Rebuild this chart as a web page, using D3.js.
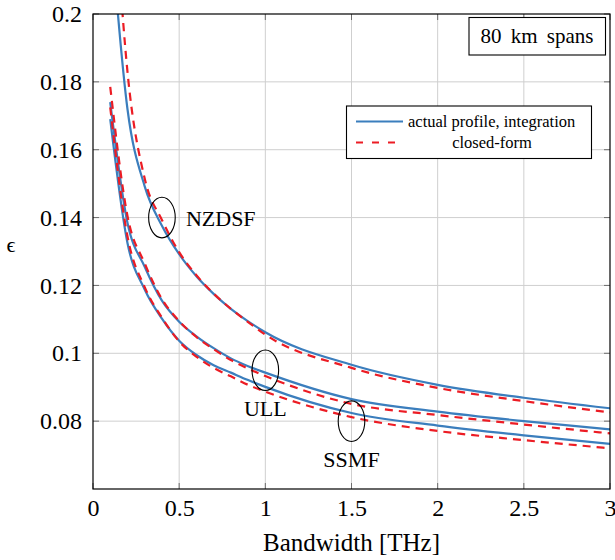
<!DOCTYPE html>
<html>
<head>
<meta charset="utf-8">
<script src="https://cdn.jsdelivr.net/npm/d3@7"></script>
<style>
  html, body { margin: 0; padding: 0; background: #fff; }
  svg { display: block; }
  text { font-family: "Liberation Serif", "DejaVu Serif", serif; fill: #000; }
</style>
</head>
<body>
<svg id="chart" width="615" height="560"></svg>
<script>
// ---- data ----
const bandwidth = [0.1, 0.2, 0.3, 0.4, 0.5, 0.6, 0.7, 0.8, 0.9, 1.0, 1.5, 2.0, 2.5, 3.0];

const nzdsfIntegration = [0.227, 0.172, 0.1492, 0.1376, 0.1292, 0.1227, 0.1175, 0.1131, 0.1094, 0.1062, 0.0966, 0.0907, 0.0869, 0.0838];
const nzdsfClosedForm  = [0.255, 0.183, 0.1515, 0.1393, 0.1298, 0.1230, 0.1176, 0.1131, 0.1092, 0.1055, 0.0957, 0.0898, 0.0859, 0.0826];

const ullIntegration   = [0.174, 0.1385, 0.1255, 0.1155, 0.1093, 0.105, 0.1015, 0.0985, 0.0962, 0.0943, 0.0865, 0.0828, 0.0800, 0.0776];
const ullClosedForm    = [0.1785, 0.1405, 0.1265, 0.116, 0.1095, 0.1048, 0.1012, 0.098, 0.0955, 0.0933, 0.0851, 0.0818, 0.0790, 0.0764];

const ssmfIntegration  = [0.169, 0.1325, 0.1188, 0.1102, 0.1037, 0.0995, 0.0965, 0.0943, 0.0921, 0.0901, 0.0824, 0.0787, 0.0758, 0.0733];
const ssmfClosedForm   = [0.1725, 0.1345, 0.1195, 0.1105, 0.1035, 0.0990, 0.0957, 0.0932, 0.0907, 0.0887, 0.0812, 0.0771, 0.0744, 0.0720];

const xTicks = [0, 0.5, 1, 1.5, 2, 2.5, 3];
const xTickLabels = ["0", "0.5", "1", "1.5", "2", "2.5", "3"];
const yTicks = [0.08, 0.1, 0.12, 0.14, 0.16, 0.18, 0.2];
const yTickLabels = ["0.08", "0.1", "0.12", "0.14", "0.16", "0.18", "0.2"];

const fiberLabels = ["NZDSF", "ULL", "SSMF"];
const fiberMarkX = [0.4, 1.0, 1.5];
const fiberMarkY = [0.14, 0.095, 0.08];

const legendLabels = ["actual profile, integration", "closed-form"];
const spanNote = "80 km spans";
const xTitle = "Bandwidth [THz]";
const yTitle = "\u03F5";

// ---- layout ----
const FONT = '"Liberation Serif", "DejaVu Serif", serif';
const svg = d3.select("#chart");
const L = 93, T = 14, R = 610, B = 489;
const x = d3.scaleLinear().domain([0, 3]).range([L, R]);
const y = d3.scaleLinear().domain([0.06, 0.2]).range([B, T]);

const blue = "#3b7ebd";
const red = "#ec1c24";

// grid
svg.append("g").selectAll("line").data(xTicks.filter(d => d > 0 && d < 3)).join("line")
  .attr("x1", d => x(d)).attr("x2", d => x(d)).attr("y1", T).attr("y2", B)
  .attr("stroke", "#cfcfcf").attr("stroke-width", 1);
svg.append("g").selectAll("line").data(yTicks.filter(d => d < 0.2)).join("line")
  .attr("y1", d => y(d)).attr("y2", d => y(d)).attr("x1", L).attr("x2", R)
  .attr("stroke", "#cfcfcf").attr("stroke-width", 1);

// inner tick marks (all four sides)
const tk = 6;
const tickG = svg.append("g").attr("stroke", "#6e6e6e").attr("stroke-width", 1);
xTicks.forEach(d => {
  tickG.append("line").attr("x1", x(d)).attr("x2", x(d)).attr("y1", B).attr("y2", B - tk);
  tickG.append("line").attr("x1", x(d)).attr("x2", x(d)).attr("y1", T).attr("y2", T + tk);
});
yTicks.forEach(d => {
  tickG.append("line").attr("y1", y(d)).attr("y2", y(d)).attr("x1", L).attr("x2", L + tk);
  tickG.append("line").attr("y1", y(d)).attr("y2", y(d)).attr("x1", R).attr("x2", R - tk);
});

// axes (labels only, via d3 axes)
const xAxis = d3.axisBottom(x).tickValues(xTicks).tickFormat((d, i) => xTickLabels[i]).tickSize(0).tickPadding(10);
const gx = svg.append("g").attr("transform", `translate(0,${B})`).call(xAxis);
gx.select(".domain").remove();
gx.selectAll("text").style("font-size", "24px").style("font-family", FONT).attr("fill", "#000");

const yAxis = d3.axisLeft(y).tickValues(yTicks).tickFormat((d, i) => yTickLabels[i]).tickSize(0).tickPadding(11);
const gy = svg.append("g").attr("transform", `translate(${L},0)`).call(yAxis);
gy.select(".domain").remove();
gy.selectAll("text").style("font-size", "24px").style("font-family", FONT).attr("fill", "#000");

// clip
svg.append("clipPath").attr("id", "plotclip").append("rect")
  .attr("x", L).attr("y", T).attr("width", R - L).attr("height", B - T);

const line = d3.line().x(d => x(d[0])).y(d => y(d[1])).curve(d3.curveMonotoneX);
const plotG = svg.append("g").attr("clip-path", "url(#plotclip)");

const seriesPairs = [
  [nzdsfIntegration, nzdsfClosedForm],
  [ullIntegration, ullClosedForm],
  [ssmfIntegration, ssmfClosedForm]
];
seriesPairs.forEach(([integ, closed]) => {
  plotG.append("path").datum(bandwidth.map((b, i) => [b, integ[i]]))
    .attr("d", line).attr("fill", "none").attr("stroke", blue).attr("stroke-width", 2.2);
  plotG.append("path").datum(bandwidth.map((b, i) => [b, closed[i]]))
    .attr("d", line).attr("fill", "none").attr("stroke", red).attr("stroke-width", 2.2)
    .attr("stroke-dasharray", "8,6");
});

// frame
svg.append("rect").attr("x", L).attr("y", T).attr("width", R - L).attr("height", B - T)
  .attr("fill", "none").attr("stroke", "#000").attr("stroke-width", 1.2);

// ellipses + labels
fiberLabels.forEach((lab, i) => {
  svg.append("ellipse").attr("cx", x(fiberMarkX[i])).attr("cy", y(fiberMarkY[i]))
    .attr("rx", 13.3).attr("ry", 20.3).attr("fill", "none").attr("stroke", "#000").attr("stroke-width", 1.1);
});
svg.append("text").attr("x", x(fiberMarkX[0]) + 24).attr("y", y(fiberMarkY[0]) + 8)
  .style("font-size", "22px").text(fiberLabels[0]);
svg.append("text").attr("x", x(fiberMarkX[1])).attr("y", 416).attr("text-anchor", "middle")
  .style("font-size", "22px").text(fiberLabels[1]);
svg.append("text").attr("x", x(fiberMarkX[2])).attr("y", 466.5).attr("text-anchor", "middle")
  .style("font-size", "22px").text(fiberLabels[2]);

// span note box
svg.append("rect").attr("x", 469).attr("y", 17.5).attr("width", 136.5).attr("height", 37.5)
  .attr("fill", "#fff").attr("stroke", "#000").attr("stroke-width", 1.1);
svg.append("text").attr("x", 537).attr("y", 43).attr("text-anchor", "middle")
  .style("font-size", "21px").attr("word-spacing", 4).text(spanNote);

// legend
const lg = svg.append("g");
lg.append("rect").attr("x", 346.5).attr("y", 106).attr("width", 245).attr("height", 52.5)
  .attr("fill", "#fff").attr("stroke", "#000").attr("stroke-width", 1.1);
lg.append("line").attr("x1", 356).attr("x2", 403).attr("y1", 121.5).attr("y2", 121.5)
  .attr("stroke", blue).attr("stroke-width", 2.2);
lg.append("line").attr("x1", 356).attr("x2", 403).attr("y1", 142.5).attr("y2", 142.5)
  .attr("stroke", red).attr("stroke-width", 2.2).attr("stroke-dasharray", "7,9");
lg.append("text").attr("x", 408).attr("y", 127).style("font-size", "16.5px").text(legendLabels[0]);
lg.append("text").attr("x", 492).attr("y", 147.5).attr("text-anchor", "middle").style("font-size", "16.5px").text(legendLabels[1]);

// axis titles
svg.append("text").attr("x", (L + R) / 2).attr("y", 551).attr("text-anchor", "middle")
  .style("font-size", "25px").text(xTitle);
svg.append("text").attr("x", 11).attr("y", 252).attr("text-anchor", "middle")
  .style("font-size", "22px").text(yTitle);
</script>
</body>
</html>
